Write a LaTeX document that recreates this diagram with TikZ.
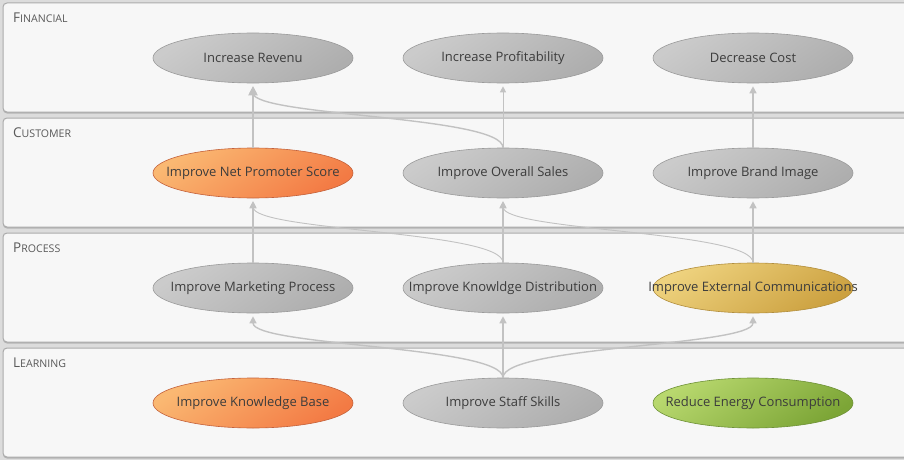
\documentclass[tikz,border=0pt]{standalone}
\usepackage{fontspec}
\setmainfont{Open Sans}
\usetikzlibrary{shapes.geometric,arrows.meta,shadows}
\definecolor{bandfill}{HTML}{F7F7F7}
\definecolor{bandline}{HTML}{ABABAB}
\definecolor{bgcol}{HTML}{DCDCDC}
\definecolor{txt}{HTML}{3C3C3C}
\definecolor{conncol}{HTML}{C2C2C2}
\definecolor{greyA}{HTML}{CBCBCB}
\definecolor{greyB}{HTML}{AEAEAE}
\definecolor{greyD}{HTML}{9A9A9A}
\definecolor{orA}{HTML}{FAB872}
\definecolor{orB}{HTML}{F37A44}
\definecolor{orD}{HTML}{C4613A}
\definecolor{goA}{HTML}{EED27E}
\definecolor{goB}{HTML}{CCA140}
\definecolor{goD}{HTML}{B28E3C}
\definecolor{grA}{HTML}{B8D86E}
\definecolor{grB}{HTML}{7CA536}
\definecolor{grD}{HTML}{6E9136}
\tikzset{
  x=1pt, y=-1pt,
  band/.style={draw=bandline, line width=1pt, fill=bandfill, rounded corners=4pt,
    drop shadow={shadow xshift=0pt, shadow yshift=-1.5pt, fill=black, opacity=0.18}},
  bandlabel/.style={anchor=west, text=txt!85, inner sep=0pt},
  goal/.style={ellipse, minimum width=200pt, minimum height=50pt, inner sep=0pt,
    text=txt, font=\fontsize{13}{15}\selectfont, line width=0.6pt},
  greygoal/.style={goal, draw=greyD, top color=greyA, bottom color=greyB, shading angle=35},
  orangegoal/.style={goal, draw=orD, top color=orA, bottom color=orB, shading angle=35},
  goldgoal/.style={goal, draw=goD, top color=goA, bottom color=goB, shading angle=35},
  greengoal/.style={goal, draw=grD, top color=grA, bottom color=grB, shading angle=35},
  conn/.style={draw=conncol, line width=1.4pt, shorten >=3pt,
    -{Triangle[length=7pt,width=7pt]}},
  connthick/.style={conn, line width=2pt, -{Triangle[length=9pt,width=9pt]}},
  connthin/.style={conn, line width=0.9pt, -{Triangle[length=6pt,width=6pt]}}
}
\newcommand{\bandname}[2]{{\fontsize{13.5}{13.5}\selectfont #1}{\fontsize{10.6}{13.5}\selectfont #2}}
\newcommand{\gl}[1]{\makebox[0pt][c]{#1}}
\begin{document}
\begin{tikzpicture}
\useasboundingbox (0,0) rectangle (904,460);
\fill[bgcol] (0,0) rectangle (904,460);
% bands
\draw[band] (3,3) rectangle (912,112);
\draw[band] (3,118) rectangle (912,227);
\draw[band] (3,233) rectangle (912,342);
\draw[band] (3,348) rectangle (912,457);
\node[bandlabel] (lf) at (13,18) {\bandname{F}{INANCIAL}};
\node[bandlabel] (lc) at (13,133) {\bandname{C}{USTOMER}};
\node[bandlabel] (lp) at (13,248) {\bandname{P}{ROCESS}};
\node[bandlabel] (ll) at (13,363) {\bandname{L}{EARNING}};
% goals
\node[greygoal] (rev) at (253,58) {\gl{Increase Revenu}};
\node[greygoal] (prof) at (503,58) {\gl{Increase Profitability}};
\node[greygoal] (cost) at (753,58) {\gl{Decrease Cost}};
\node[orangegoal] (nps) at (253,173) {\gl{Improve Net Promoter Score}};
\node[greygoal] (sales) at (503,173) {\gl{Improve Overall Sales}};
\node[greygoal] (brand) at (753,173) {\gl{Improve Brand Image}};
\node[greygoal] (mkt) at (253,288) {\gl{Improve Marketing Process}};
\node[greygoal] (kd) at (503,288) {\gl{Improve Knowldge Distribution}};
\node[goldgoal] (ext) at (753,288) {\gl{Improve External Communications}};
\node[orangegoal] (kb) at (253,403) {\gl{Improve Knowledge Base}};
\node[greygoal] (staff) at (503,403) {\gl{Improve Staff Skills}};
\node[greengoal] (energy) at (753,403) {\gl{Reduce Energy Consumption}};
% connectors
\draw[connthick] (nps.north) -- (rev.south);
\draw[conn] (sales.north) .. controls +(0,-32) and +(0,33) .. (rev.south);
\draw[connthin] (sales.north) -- (prof.south);
\draw[conn] (brand.north) -- (cost.south);
\draw[conn] (mkt.north) -- (nps.south);
\draw[connthin] (kd.north) .. controls +(0,-32) and +(0,33) .. (nps.south);
\draw[conn] (kd.north) -- (sales.south);
\draw[connthin] (ext.north) .. controls +(0,-32) and +(0,33) .. (sales.south);
\draw[conn] (ext.north) -- (brand.south);
\draw[conn] (staff.north) .. controls +(0,-32) and +(0,33) .. (mkt.south);
\draw[conn] (staff.north) -- (kd.south);
\draw[conn] (staff.north) .. controls +(0,-32) and +(0,33) .. (ext.south);
\end{tikzpicture}
\end{document}
